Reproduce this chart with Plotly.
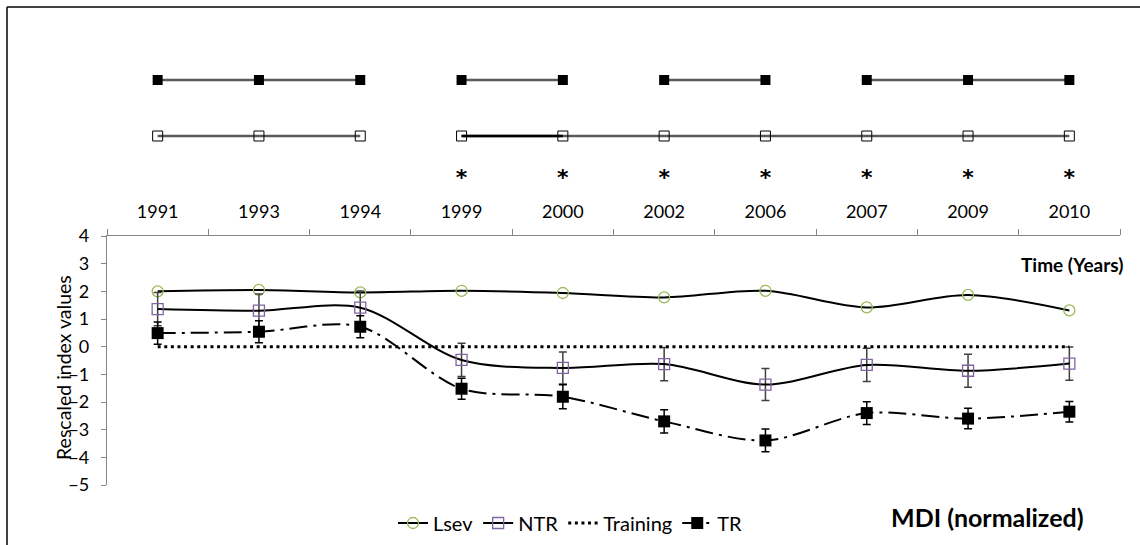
import plotly.graph_objects as go

# ---------------- data ----------------
years = ["1991", "1993", "1994", "1999", "2000", "2002", "2006", "2007", "2009", "2010"]
lsev = [2.00, 2.05, 1.96, 2.02, 1.94, 1.78, 2.02, 1.42, 1.87, 1.31]
ntr = [1.36, 1.30, 1.41, -0.48, -0.77, -0.63, -1.37, -0.66, -0.87, -0.61]
ntr_err = [0.60, 0.60, 0.60, 0.60, 0.58, 0.60, 0.58, 0.60, 0.60, 0.60]
tr = [0.49, 0.54, 0.72, -1.52, -1.81, -2.70, -3.39, -2.40, -2.60, -2.35]
tr_err = [0.40, 0.40, 0.40, 0.38, 0.43, 0.42, 0.41, 0.41, 0.37, 0.37]
training = [0, 0, 0, 0, 0, 0, 0, 0, 0, 0]
y_ticks = [-5, -4, -3, -2, -1, 0, 1, 2, 3, 4]

# top schematic (rows of connected years)
tr_row_groups = [["1991", "1993", "1994"], ["1999", "2000"], ["2002", "2006"], ["2007", "2009", "2010"]]
ntr_row_groups = [["1991", "1993", "1994"], ["1999", "2000", "2002", "2006", "2007", "2009", "2010"]]
ntr_row_highlight = ["1999", "2000"]
asterisk_years = ["1999", "2000", "2002", "2006", "2007", "2009", "2010"]
TR_ROW, NTR_ROW, AST_ROW = 2, 1, 0.22

FONT = "Lato"
W, H = 1140, 545

def px_x(p):
    return p / W

def px_y(p):
    return (H - p) / H

fig = go.Figure()

# ---------- top schematic ----------
for g in tr_row_groups:
    fig.add_trace(go.Scatter(x=g, y=[TR_ROW] * len(g), yaxis="y2", mode="lines",
                             line=dict(color="#5a5a5a", width=2.5), showlegend=False, hoverinfo="skip"))
for g in ntr_row_groups:
    fig.add_trace(go.Scatter(x=g, y=[NTR_ROW] * len(g), yaxis="y2", mode="lines",
                             line=dict(color="#5a5a5a", width=2.5), showlegend=False, hoverinfo="skip"))
fig.add_trace(go.Scatter(x=ntr_row_highlight, y=[NTR_ROW] * len(ntr_row_highlight), yaxis="y2", mode="lines",
                         line=dict(color="#000000", width=2.5), showlegend=False, hoverinfo="skip"))
fig.add_trace(go.Scatter(x=years, y=[TR_ROW] * len(years), yaxis="y2", mode="markers",
                         marker=dict(symbol="square", size=10, color="#000000"), showlegend=False, hoverinfo="skip"))
fig.add_trace(go.Scatter(x=years, y=[NTR_ROW] * len(years), yaxis="y2", mode="markers",
                         marker=dict(symbol="square-open", size=10, color="#000000", line=dict(width=1)),
                         showlegend=False, hoverinfo="skip"))
fig.add_trace(go.Scatter(x=asterisk_years, y=[AST_ROW] * len(asterisk_years), yaxis="y2", mode="text",
                         text=["<b>*</b>"] * len(asterisk_years),
                         textfont=dict(family="DejaVu Sans", size=22, color="#000000"),
                         showlegend=False, hoverinfo="skip"))

# ---------- main chart ----------
fig.add_trace(go.Scatter(x=years, y=lsev, name="Lsev", mode="lines+markers",
                         line=dict(color="#000000", width=2, shape="spline", smoothing=0.9),
                         marker=dict(symbol="circle-open", size=11, color="#9BBB59", line=dict(width=1.3))))
fig.add_trace(go.Scatter(x=years, y=ntr, name="NTR", mode="lines+markers",
                         line=dict(color="#000000", width=2, shape="spline", smoothing=0.9),
                         marker=dict(symbol="square-open", size=11, color="#8064A2", line=dict(width=1.3)),
                         error_y=dict(type="data", array=ntr_err, visible=True, color="#404040",
                                      thickness=1.5, width=4)))
fig.add_trace(go.Scatter(x=years, y=training, name="Training", mode="lines",
                         line=dict(color="#000000", width=3, dash="3px,3.6px")))
fig.add_trace(go.Scatter(x=years, y=tr, name="TR", mode="lines+markers",
                         line=dict(color="#000000", width=2, dash="18px,6px,3px,6px", shape="spline", smoothing=0.9),
                         marker=dict(symbol="square", size=12, color="#000000"),
                         error_y=dict(type="data", array=tr_err, visible=True, color="#000000",
                                      thickness=1.5, width=4)))

axis_grey = "#868686"
fig.update_layout(
    width=W, height=H,
    margin=dict(l=0, r=0, t=0, b=0, pad=0, autoexpand=False),
    paper_bgcolor="white", plot_bgcolor="white",
    font=dict(family=FONT, color="#000000", size=16),
    xaxis=dict(domain=[px_x(107), px_x(1120)], type="category", categoryorder="array", categoryarray=years,
               range=[-0.5, 9.5], side="top", anchor="y", showline=True, linecolor=axis_grey, linewidth=1.3,
               ticks="outside", tickson="boundaries", ticklen=6, tickcolor=axis_grey, tickwidth=1.3,
               tickfont=dict(family=FONT, size=18, color="#000000"), ticklabelstandoff=10,
               showgrid=False, zeroline=False, fixedrange=True, automargin=False),
    yaxis=dict(domain=[px_y(485), px_y(236)], range=[-5, 4], tickvals=y_ticks, showline=True,
               linecolor=axis_grey, linewidth=1.3, ticks="outside", ticklen=5, tickcolor=axis_grey, tickwidth=1.3,
               tickfont=dict(family=FONT, size=18, color="#000000"), ticklabelstandoff=8,
               showgrid=False, zeroline=False, fixedrange=True, automargin=False),
    yaxis2=dict(domain=[px_y(220), px_y(24)], range=[-0.5, 3], anchor="x", visible=False, fixedrange=True),
    legend=dict(orientation="h", x=px_x(393), y=px_y(523), xanchor="left", yanchor="middle",
                font=dict(family=FONT, size=20, color="#000000"), bgcolor="rgba(0,0,0,0)",
                itemwidth=30, tracegroupgap=0),
    showlegend=True,
)

fig.add_annotation(text="Rescaled index values", xref="paper", yref="paper", x=px_x(63), y=px_y(368),
                   xanchor="center", yanchor="middle",
                   textangle=-90, showarrow=False, font=dict(family=FONT, size=19.5, color="#000000"))
fig.add_annotation(text="<b>Time (Years)</b>", xref="paper", yref="paper", x=px_x(1072), y=px_y(264),
                   xanchor="center", yanchor="middle",
                   showarrow=False, font=dict(family=FONT, size=19, color="#000000"))
fig.add_annotation(text="<b>MDI (normalized)</b>", xref="paper", yref="paper", x=px_x(987), y=px_y(517),
                   xanchor="center", yanchor="middle",
                   showarrow=False, font=dict(family=FONT, size=25, color="#000000"))

# outer frame (left and top edges)
fig.add_shape(type="line", xref="paper", yref="paper", x0=px_x(7), x1=px_x(7), y0=0, y1=px_y(7),
              line=dict(color="#000000", width=1.5))
fig.add_shape(type="line", xref="paper", yref="paper", x0=px_x(7), x1=1, y0=px_y(7), y1=px_y(7),
              line=dict(color="#000000", width=1.5))

fig.write_html("out.html")
